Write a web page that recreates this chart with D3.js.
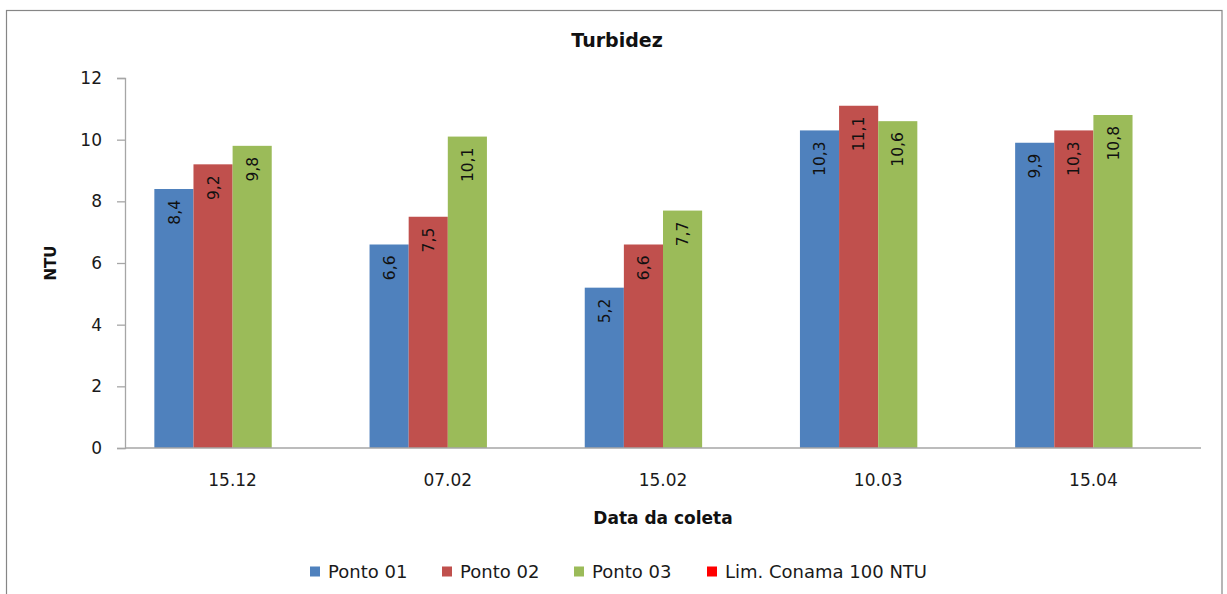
<!DOCTYPE html>
<html>
<head>
<meta charset="utf-8">
<script src="https://cdn.jsdelivr.net/npm/d3@7"></script>
<style>
  html, body { margin: 0; padding: 0; background: #fff; }
  svg { display: block; font-family: "DejaVu Sans", sans-serif; }
</style>
</head>
<body>
<svg id="chart" width="1227" height="594"></svg>
<script>
// Turbidity per sampling date and point
const categories = ["15.12", "07.02", "15.02", "10.03", "15.04"];
const seriesNames = ["Ponto 01", "Ponto 02", "Ponto 03", "Lim. Conama 100 NTU"];
const ponto01 = [8.4, 6.6, 5.2, 10.3, 9.9];
const ponto02 = [9.2, 7.5, 6.6, 11.1, 10.3];
const ponto03 = [9.8, 10.1, 7.7, 10.6, 10.8];
const limConama = [null, null, null, null, null];
const yTicks = [0, 2, 4, 6, 8, 10, 12];

const seriesValues = [ponto01, ponto02, ponto03, limConama];
const colors = ["#4F81BD", "#C0504D", "#9BBB59", "#FF0000"];

const svg = d3.select("#chart");

// chart area frame
svg.append("rect")
  .attr("x", 6.5).attr("y", 10.5)
  .attr("width", 1215.5).attr("height", 600)
  .attr("fill", "#fff").attr("stroke", "#868686").attr("stroke-width", 1.2);

const plot = { left: 125, right: 1201, top: 78, bottom: 448 };

const x = d3.scaleBand().domain(categories).range([plot.left, plot.right]).padding(0);
const bw = x.bandwidth();
const barW = bw / (seriesNames.length + 1.5);
const groupW = barW * seriesNames.length;
const x1 = d3.scaleBand().domain(seriesNames)
  .range([(bw - groupW) / 2, (bw + groupW) / 2]).padding(0);

const y = d3.scaleLinear().domain([0, 12]).range([plot.bottom, plot.top]);

// y axis
const yAxis = svg.append("g")
  .attr("transform", `translate(${plot.left},0)`)
  .call(d3.axisLeft(y).tickValues(yTicks).tickSize(8).tickPadding(15).tickFormat(d3.format("d")));
yAxis.select(".domain").attr("stroke", "#A6A6A6").attr("stroke-width", 1.3);
yAxis.selectAll(".tick line").attr("stroke", "#A6A6A6").attr("stroke-width", 1.3);
yAxis.selectAll(".tick text")
  .attr("font-size", 17).attr("fill", "#1a1a1a")
  .attr("font-family", "DejaVu Sans, sans-serif");

// bars
const rows = [];
categories.forEach((c, i) => {
  seriesNames.forEach((s, j) => {
    const v = seriesValues[j][i];
    if (v !== null && v !== undefined) rows.push({ cat: c, series: s, value: v, color: colors[j] });
  });
});

const bars = svg.append("g");
bars.selectAll("rect").data(rows).enter().append("rect")
  .attr("x", d => x(d.cat) + x1(d.series))
  .attr("y", d => y(d.value))
  .attr("width", x1.bandwidth())
  .attr("height", d => y(0) - y(d.value))
  .attr("fill", d => d.color);

// x axis line
svg.append("line")
  .attr("x1", plot.left).attr("x2", plot.right)
  .attr("y1", y(0)).attr("y2", y(0))
  .attr("stroke", "#A6A6A6").attr("stroke-width", 1.3);

// x tick labels
svg.append("g").selectAll("text").data(categories).enter().append("text")
  .attr("x", d => x(d) + bw / 2)
  .attr("y", 486)
  .attr("text-anchor", "middle")
  .attr("font-size", 17).attr("fill", "#1a1a1a")
  .text(d => d);

// value labels inside the bar tops, rotated
const fmt = v => v.toFixed(1).replace(".", ",");
svg.append("g").selectAll("text").data(rows).enter().append("text")
  .attr("transform", d => {
    const cx = x(d.cat) + x1(d.series) + x1.bandwidth() / 2;
    const ty = y(d.value) + 11;
    return `translate(${cx},${ty}) rotate(-90)`;
  })
  .attr("text-anchor", "end")
  .attr("dy", "0.36em")
  .attr("font-size", 15.5).attr("fill", "#111")
  .text(d => fmt(d.value));

// titles
svg.append("text")
  .attr("x", 617).attr("y", 47)
  .attr("text-anchor", "middle")
  .attr("font-size", 19).attr("font-weight", "bold").attr("fill", "#111")
  .text("Turbidez");

svg.append("text")
  .attr("x", (plot.left + plot.right) / 2).attr("y", 524)
  .attr("text-anchor", "middle")
  .attr("font-size", 17).attr("font-weight", "bold").attr("fill", "#111")
  .text("Data da coleta");

svg.append("text")
  .attr("transform", `translate(56,${(plot.top + plot.bottom) / 2}) rotate(-90)`)
  .attr("text-anchor", "middle")
  .attr("font-size", 15).attr("font-weight", "bold").attr("fill", "#111")
  .text("NTU");

// legend
const legendX = [310, 442, 574, 707];
const legend = svg.append("g");
seriesNames.forEach((s, j) => {
  const g = legend.append("g").attr("transform", `translate(${legendX[j]},566.5)`);
  g.append("rect").attr("width", 10).attr("height", 10).attr("fill", colors[j]);
  g.append("text")
    .attr("x", 18).attr("y", 11.5)
    .attr("font-size", 18).attr("fill", "#1a1a1a")
    .text(s);
});
</script>
</body>
</html>
